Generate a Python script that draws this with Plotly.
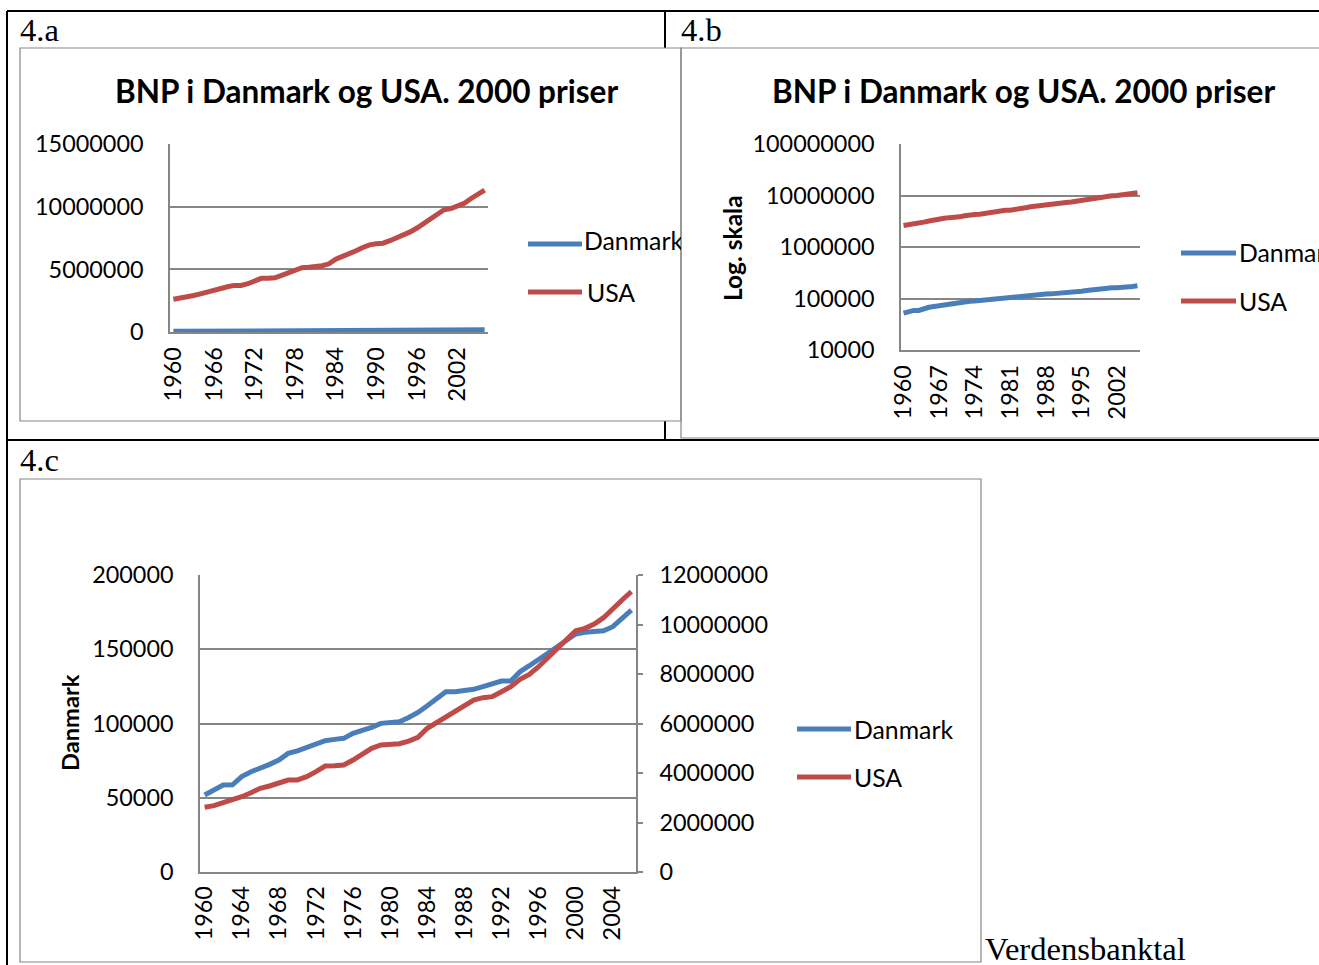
import plotly.graph_objects as go

# ---------------- data ----------------
years = [1960, 1961, 1962, 1963, 1964, 1965, 1966, 1967, 1968, 1969,
         1970, 1971, 1972, 1973, 1974, 1975, 1976, 1977, 1978, 1979,
         1980, 1981, 1982, 1983, 1984, 1985, 1986, 1987, 1988, 1989,
         1990, 1991, 1992, 1993, 1994, 1995, 1996, 1997, 1998, 1999,
         2000, 2001, 2002, 2003, 2004, 2005, 2006]

danmark = [51900, 55200, 58600, 58700, 64200, 67500, 69800, 72500, 75400, 79900,
           81500, 83700, 86600, 88400, 89300, 90000, 93400, 95200, 97400, 100100,
           101000, 101200, 104000, 107400, 112000, 117000, 121400, 121400, 121900, 123000,
           124800, 126600, 128600, 128600, 134900, 138900, 142800, 147300, 151700, 155700,
           160300, 161400, 162100, 162500, 165200, 170800, 176400]

usa = [2614000, 2679000, 2800000, 2909000, 3042000, 3204000, 3380000, 3475000, 3609000, 3717000,
       3720000, 3852000, 4053000, 4283000, 4296000, 4323000, 4525000, 4755000, 4997000, 5131000,
       5172000, 5185000, 5290000, 5440000, 5806000, 6034000, 6236000, 6478000, 6747000, 6949000,
       7043000, 7084000, 7285000, 7487000, 7784000, 7986000, 8295000, 8674000, 9038000, 9414000,
       9750000, 9845000, 10020000, 10275000, 10653000, 10990000, 11325000]

ticks_a = [1960, 1966, 1972, 1978, 1984, 1990, 1996, 2002]
ticks_b = [1960, 1967, 1974, 1981, 1988, 1995, 2002]
ticks_c = [1960, 1964, 1968, 1972, 1976, 1980, 1984, 1988, 1992, 1996, 2000, 2004]

yticks_a = [0, 5000000, 10000000, 15000000]
yticks_b = [10000, 100000, 1000000, 10000000, 100000000]
yticks_c_left = [0, 50000, 100000, 150000, 200000]
yticks_c_right = [0, 2000000, 4000000, 6000000, 8000000, 10000000, 12000000]

title_text = "BNP i Danmark og USA. 2000 priser"
series_names = ["Danmark", "USA"]

# ---------------- style ----------------
W, H = 1319, 965
BLUE = "#4A7EBB"
RED = "#BE4B48"
GRAY = "#868686"
FONT = "Lato"
SERIF = "Liberation Serif"
LW = 5
TICK_SIZE = 23.4
LEG_SIZE = 24.8


def px(x):
    return x / W


def py(y):
    return 1 - y / H


tick_font = dict(family=FONT, size=TICK_SIZE, color="#000")

fig = go.Figure()

# 4.a
fig.add_trace(go.Scatter(x=years, y=danmark, xaxis="x", yaxis="y", mode="lines",
                         line=dict(color=BLUE, width=LW), showlegend=False, hoverinfo="skip"))
fig.add_trace(go.Scatter(x=years, y=usa, xaxis="x", yaxis="y", mode="lines",
                         line=dict(color=RED, width=LW), showlegend=False, hoverinfo="skip"))
# 4.b
fig.add_trace(go.Scatter(x=years, y=danmark, xaxis="x2", yaxis="y2", mode="lines",
                         line=dict(color=BLUE, width=LW), showlegend=False, hoverinfo="skip"))
fig.add_trace(go.Scatter(x=years, y=usa, xaxis="x2", yaxis="y2", mode="lines",
                         line=dict(color=RED, width=LW), showlegend=False, hoverinfo="skip"))
# 4.c
fig.add_trace(go.Scatter(x=years, y=danmark, xaxis="x3", yaxis="y3", mode="lines",
                         line=dict(color=BLUE, width=LW), showlegend=False, hoverinfo="skip"))
fig.add_trace(go.Scatter(x=years, y=usa, xaxis="x3", yaxis="y4", mode="lines",
                         line=dict(color=RED, width=LW), showlegend=False, hoverinfo="skip"))

# clipped legend label of chart 4.a (cut by chart 4.b frame)
fig.add_trace(go.Scatter(x=[584], y=[244], xaxis="x5", yaxis="y5", mode="text",
                         text=[series_names[0]], textposition="middle right",
                         textfont=dict(family=FONT, size=LEG_SIZE, color="#000"),
                         cliponaxis=True, showlegend=False, hoverinfo="skip"))


def xax(domain, tickvals, standoff):
    return dict(domain=domain, range=[1959.5, 2006.5], tickmode="array",
                tickvals=tickvals, ticktext=[str(t) for t in tickvals], tickangle=-90,
                showline=True, linecolor=GRAY, linewidth=1.5, showgrid=False,
                zeroline=False, ticks="", tickfont=tick_font, ticklabelstandoff=standoff,
                fixedrange=True, automargin=False)


def yax(domain, rng, tickvals, standoff, **kw):
    d = dict(domain=domain, range=rng, tickmode="array", tickvals=tickvals,
             ticktext=[str(t) for t in tickvals], showline=True, linecolor=GRAY,
             linewidth=1.5, showgrid=True, gridcolor=GRAY, gridwidth=1.5,
             zeroline=False, ticks="", tickfont=tick_font, ticklabelstandoff=standoff,
             fixedrange=True, automargin=False)
    d.update(kw)
    return d


layout = dict(
    width=W, height=H, autosize=False,
    margin=dict(l=0, r=0, t=0, b=0, pad=0, autoexpand=False),
    paper_bgcolor="white", plot_bgcolor="rgba(0,0,0,0)",
    xaxis=xax([px(170), px(488)], ticks_a, 4),
    yaxis=yax([py(332), py(144)], [0, 15000000], yticks_a, 20, anchor="x"),
    xaxis2=xax([px(901), px(1140)], ticks_b, 4),
    yaxis2=yax([py(350), py(144)], [4, 8], yticks_b, 20, anchor="x2", type="log"),
    xaxis3=xax([px(200), px(636)], ticks_c, 3),
    yaxis3=yax([py(872), py(575)], [0, 200000], yticks_c_left, 20, anchor="x3"),
    yaxis4=yax([py(872), py(575)], [0, 12000000], yticks_c_right, 12, anchor="x3",
               overlaying="y3", side="right", showgrid=False, ticks="outside",
               ticklen=5, tickcolor=GRAY, tickwidth=1.5),
    xaxis5=dict(domain=[px(500), px(681)], range=[500, 681], visible=False,
                fixedrange=True, automargin=False),
    yaxis5=dict(domain=[py(320), py(220)], range=[320, 220], visible=False,
                anchor="x5", fixedrange=True, automargin=False),
)
layout["xaxis"]["anchor"] = "y"
layout["xaxis2"]["anchor"] = "y2"
layout["xaxis3"]["anchor"] = "y3"
fig.update_layout(**layout)

shapes = []


def line(x0, y0, x1, y1, color, width, layer="below"):
    shapes.append(dict(type="line", xref="paper", yref="paper", x0=px(x0), y0=py(y0),
                       x1=px(x1), y1=py(y1), line=dict(color=color, width=width), layer=layer))


def rect(x0, y0, x1, y1, color, width):
    shapes.append(dict(type="rect", xref="paper", yref="paper", x0=px(x0), y0=py(y0),
                       x1=px(x1), y1=py(y1), line=dict(color=color, width=width),
                       fillcolor="rgba(0,0,0,0)", layer="below"))


# table borders
line(7, 11, 1319, 11, "#000", 2)
line(7, 11, 7, 965, "#000", 2)
line(665, 11, 665, 48, "#000", 2)
line(665, 421, 665, 440, "#000", 2)
line(7, 440, 1319, 440, "#000", 2)

# chart frames
rect(20, 48, 681, 421, GRAY, 1.2)
rect(681, 48, 1335, 438, GRAY, 1.2)
rect(20, 479, 981, 962, GRAY, 1.2)

# legend swatches
line(528, 244, 582, 244, BLUE, LW, "above")
line(528, 292, 582, 292, RED, LW, "above")
line(1181, 253, 1236, 253, BLUE, LW, "above")
line(1181, 301, 1236, 301, RED, LW, "above")
line(797, 729, 851, 729, BLUE, LW, "above")
line(797, 777, 851, 777, RED, LW, "above")

fig.update_layout(shapes=shapes)

ann = []


def text(x, y, s, family=FONT, size=LEG_SIZE, xanchor="left", bold=False, angle=0):
    ann.append(dict(xref="paper", yref="paper", x=px(x), y=py(y),
                    text=("<b>%s</b>" % s) if bold else s, showarrow=False,
                    xanchor=xanchor, yanchor="middle", textangle=angle,
                    font=dict(family=family, size=size, color="#000")))


text(18, 30, "4.a", family=SERIF, size=32.6)
text(679, 30, "4.b", family=SERIF, size=32.6)
text(18, 460, "4.c", family=SERIF, size=32.6)
text(983, 949, "Verdensbanktal", family=SERIF, size=32.6)

text(366, 91, title_text, size=31.5, xanchor="center", bold=True)
text(1023, 91, title_text, size=31.5, xanchor="center", bold=True)

text(733, 248, "Log. skala", size=24.5, xanchor="center", bold=True, angle=-90)
text(70, 723, "Danmark", size=23.7, xanchor="center", bold=True, angle=-90)

text(585, 292, series_names[1])
text(1237, 253, series_names[0])
text(1237, 301, series_names[1])
text(852, 729, series_names[0])
text(852, 777, series_names[1])

fig.update_layout(annotations=ann)

fig.write_html("out.html", config={"displayModeBar": False},
               post_script="document.body.style.margin='0';document.body.style.overflow='hidden';")
